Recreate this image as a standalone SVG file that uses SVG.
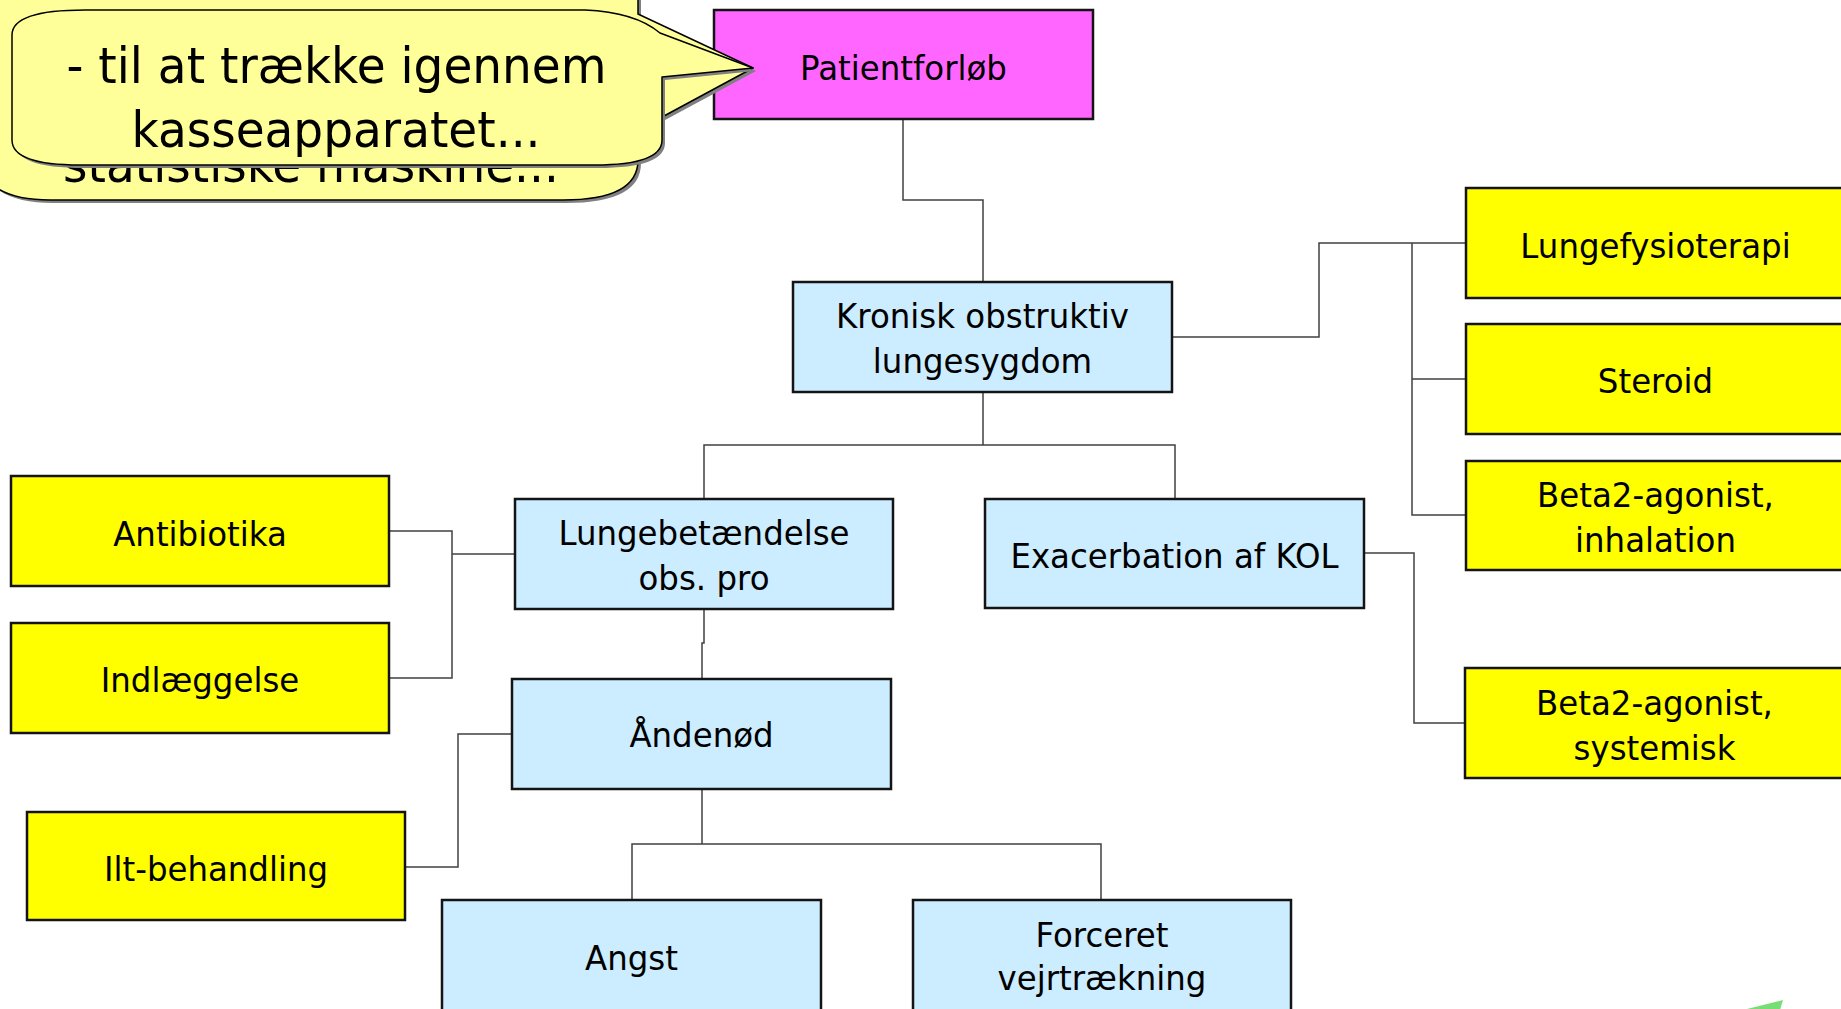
<svg xmlns="http://www.w3.org/2000/svg" width="1841" height="1009" viewBox="0 0 1841 1009">
<style>
.box{stroke:#141414;stroke-width:2.5}
.pink{fill:#FF66FF}
.blue{fill:#CCECFF}
.yel{fill:#FFFF00}
.t{font-family:"DejaVu Sans","Verdana",sans-serif;font-size:34.5px;fill:#000;text-anchor:middle}
.ct{font-family:"DejaVu Sans","Verdana",sans-serif;font-size:50px;fill:#000;text-anchor:middle}
.con{fill:none;stroke:#404040;stroke-width:1.5}
.bub{fill:#FFFF99;stroke:#000;stroke-width:1.5;stroke-linejoin:round}
.sh{fill:#808080;stroke:none}
</style>
<rect x="0" y="0" width="1841" height="1009" fill="#FFFFFF"/>

<g id="connectors">
<path class="con" d="M903,119 V200 H983 V282"/>
<path class="con" d="M983,392 V445"/>
<path class="con" d="M704,499 V445 H1175 V499"/>
<path class="con" d="M1172,337 H1319 V243 H1466"/>
<path class="con" d="M1412,243 V515 H1466"/>
<path class="con" d="M1412,379 H1466"/>
<path class="con" d="M1364,553 H1414 V723 H1465"/>
<path class="con" d="M515,554 H452"/>
<path class="con" d="M389,531 H452 V678 H389"/>
<path class="con" d="M704,609 V643 H702 V679"/>
<path class="con" d="M512,734 H458 V867 H405"/>
<path class="con" d="M702,789 V844"/>
<path class="con" d="M632,900 V844 H1101 V900"/>
</g>

<g id="node-patientforloeb">
<rect class="box pink" x="714" y="10" width="379" height="109"/>
<text class="t" transform="translate(903.5,0) scale(0.94,1)" x="0" y="80">Patientforløb</text>
</g>
<g id="node-kronisk">
<rect class="box blue" x="793" y="282" width="379" height="110"/>
<text class="t" transform="translate(982.5,0) scale(0.94,1)" x="0" y="328">Kronisk obstruktiv</text>
<text class="t" transform="translate(982.5,0) scale(0.94,1)" x="0" y="373">lungesygdom</text>
</g>
<g id="node-lungebetaendelse">
<rect class="box blue" x="515" y="499" width="378" height="110"/>
<text class="t" transform="translate(704,0) scale(0.94,1)" x="0" y="545">Lungebetændelse</text>
<text class="t" transform="translate(704,0) scale(0.94,1)" x="0" y="590">obs. pro</text>
</g>
<g id="node-exacerbation">
<rect class="box blue" x="985" y="499" width="379" height="109"/>
<text class="t" transform="translate(1174.5,0) scale(0.94,1)" x="0" y="568">Exacerbation af KOL</text>
</g>
<g id="node-aandenoed">
<rect class="box blue" x="512" y="679" width="379" height="110"/>
<text class="t" transform="translate(701.5,0) scale(0.94,1)" x="0" y="747">Åndenød</text>
</g>
<g id="node-angst">
<rect class="box blue" x="442" y="900" width="379" height="112"/>
<text class="t" transform="translate(631.5,0) scale(0.94,1)" x="0" y="970">Angst</text>
</g>
<g id="node-forceret">
<rect class="box blue" x="913" y="900" width="378" height="112"/>
<text class="t" transform="translate(1102,0) scale(0.94,1)" x="0" y="947">Forceret</text>
<text class="t" transform="translate(1102,0) scale(0.94,1)" x="0" y="990">vejrtrækning</text>
</g>
<g id="node-antibiotika">
<rect class="box yel" x="11" y="476" width="378" height="110"/>
<text class="t" transform="translate(200,0) scale(0.94,1)" x="0" y="546">Antibiotika</text>
</g>
<g id="node-indlaeggelse">
<rect class="box yel" x="11" y="623" width="378" height="110"/>
<text class="t" transform="translate(200,0) scale(0.94,1)" x="0" y="692">Indlæggelse</text>
</g>
<g id="node-ilt">
<rect class="box yel" x="27" y="812" width="378" height="108"/>
<text class="t" transform="translate(216,0) scale(0.94,1)" x="0" y="881">Ilt-behandling</text>
</g>
<g id="node-lungefysioterapi">
<rect class="box yel" x="1466" y="188" width="379" height="110"/>
<text class="t" transform="translate(1655.5,0) scale(0.94,1)" x="0" y="258">Lungefysioterapi</text>
</g>
<g id="node-steroid">
<rect class="box yel" x="1466" y="324" width="379" height="110"/>
<text class="t" transform="translate(1655.5,0) scale(0.94,1)" x="0" y="393">Steroid</text>
</g>
<g id="node-beta2-inhalation">
<rect class="box yel" x="1466" y="461" width="379" height="109"/>
<text class="t" transform="translate(1655.5,0) scale(0.94,1)" x="0" y="507">Beta2-agonist,</text>
<text class="t" transform="translate(1655.5,0) scale(0.94,1)" x="0" y="552">inhalation</text>
</g>
<g id="node-beta2-systemisk">
<rect class="box yel" x="1465" y="668" width="379" height="110"/>
<text class="t" transform="translate(1654.5,0) scale(0.94,1)" x="0" y="715">Beta2-agonist,</text>
<text class="t" transform="translate(1654.5,0) scale(0.94,1)" x="0" y="760">systemisk</text>
</g>

<g id="callout-back">
<path class="sh" transform="translate(3,3)" d="M-30,-120 L600,-120 Q638,-120 638,-60 L638,14 L753,68 L638,130 L638,160 Q638,200 563,200 L50,200 Q-10,200 -20,165 L-30,-120 Z"/>
<path class="bub" d="M-30,-120 L600,-120 Q638,-120 638,-60 L638,14 L753,68 L638,130 L638,160 Q638,200 563,200 L50,200 Q-10,200 -20,165 L-30,-120 Z"/>
<text class="ct" transform="translate(311,0) scale(0.94,1)" x="0" y="182">statistiske maskine...</text>
</g>
<g id="callout-front">
<path class="sh" transform="translate(3,3)" d="M85,10 L585,10 Q635,12 660,33 L753,68 L662,77 L662,140 Q662,165 595,165 L80,165 Q12,165 12,140 L12,35 Q12,10 85,10 Z"/>
<path class="bub" d="M85,10 L585,10 Q635,12 660,33 L753,68 L662,77 L662,140 Q662,165 595,165 L80,165 Q12,165 12,140 L12,35 Q12,10 85,10 Z"/>
<text class="ct" transform="translate(336.5,0) scale(0.94,1)" x="0" y="83">- til at trække igennem</text>
<text class="ct" transform="translate(336,0) scale(0.94,1)" x="0" y="147">kasseapparatet...</text>
</g>

<polygon points="1743,1010 1783,1000 1780,1010" fill="#77DD77"/>
</svg>
